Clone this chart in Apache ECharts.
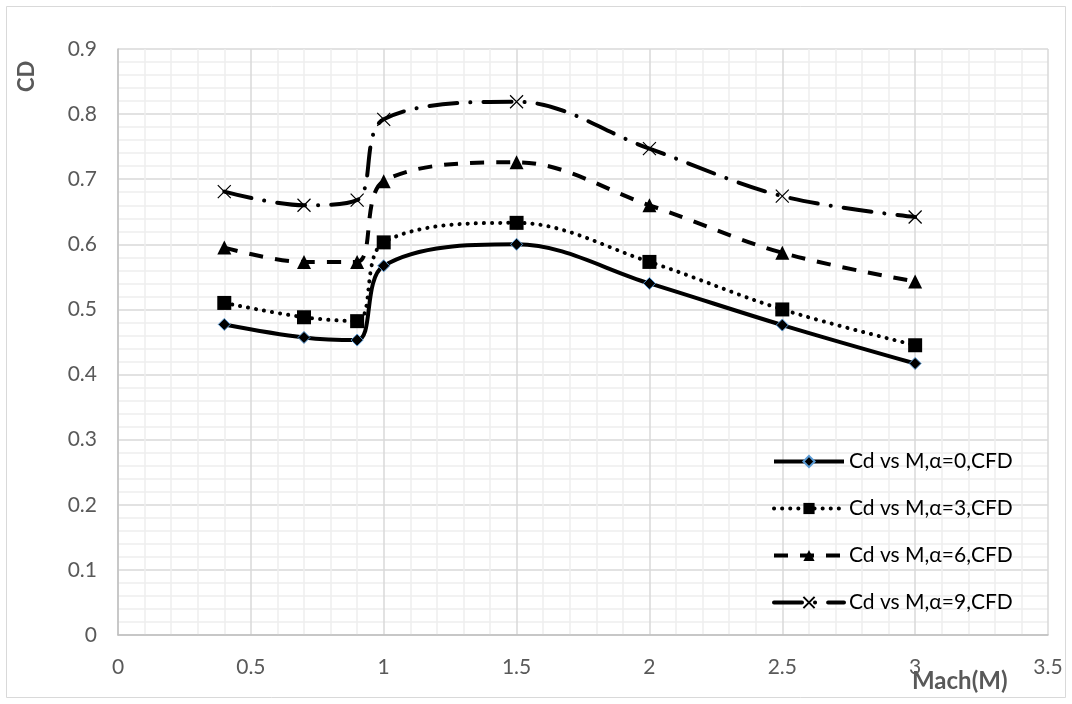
<!DOCTYPE html>
<html>
<head>
<meta charset="utf-8">
<script src="https://cdn.jsdelivr.net/npm/echarts@6/dist/echarts.min.js"></script>
<style>
  html, body { margin: 0; padding: 0; background: #ffffff; }
  #chart { width: 1072px; height: 704px; }
</style>
</head>
<body>
<div id="chart"></div>
<script>
const machValues = [0.4, 0.7, 0.9, 1, 1.5, 2, 2.5, 3];
const cdAlpha0 = [0.477, 0.457, 0.453, 0.567, 0.6, 0.54, 0.476, 0.417];
const cdAlpha3 = [0.51, 0.488, 0.482, 0.603, 0.633, 0.573, 0.5, 0.445];
const cdAlpha6 = [0.595, 0.573, 0.573, 0.697, 0.726, 0.66, 0.587, 0.543];
const cdAlpha9 = [0.681, 0.66, 0.668, 0.792, 0.819, 0.747, 0.674, 0.642];
const seriesNames = [
  "Cd vs M,α=0,CFD",
  "Cd vs M,α=3,CFD",
  "Cd vs M,α=6,CFD",
  "Cd vs M,α=9,CFD",
];

const font = "Lato, 'Open Sans', sans-serif";
const pairs = (ys) => machValues.map((x, i) => [x, ys[i]]);

const chart = echarts.init(document.getElementById("chart"), null, { renderer: "canvas" });

chart.setOption({
  animation: false,
  backgroundColor: "#ffffff",
  textStyle: { fontFamily: font },
  grid: { left: 118, right: 24, top: 49, bottom: 69 },
  graphic: [
    {
      type: "rect",
      shape: { x: 6.5, y: 6.5, width: 1059, height: 691 },
      style: { fill: "none", stroke: "#d9d9d9", lineWidth: 1 },
      silent: true,
    },
    {
      type: "text",
      left: 912,
      top: 669,
      style: { text: "Mach(M)", font: "bold 24px " + font, fill: "#595959" },
    },
    {
      type: "text",
      x: 16,
      y: 92,
      rotation: Math.PI / 2,
      style: { text: "CD", font: "bold 22px " + font, fill: "#595959" },
    },
  ],
  legend: {
    orient: "vertical",
    left: 767,
    top: 446,
    itemWidth: 70,
    itemHeight: 14,
    itemGap: 26,
    lineStyle: { width: 4 },
    textStyle: { color: "#000000", fontSize: 21, fontFamily: font },
    data: seriesNames,
  },
  xAxis: {
    type: "value",
    min: 0,
    max: 3.5,
    interval: 0.5,
    axisLine: { show: true, lineStyle: { color: "#bfbfbf", width: 1.5 } },
    axisTick: { show: false },
    axisLabel: { color: "#595959", fontSize: 21, margin: 22 },
    splitLine: { show: true, lineStyle: { color: "#d9d9d9", width: 1.5 } },
    minorTick: { show: false, splitNumber: 5 },
    minorSplitLine: { show: true, lineStyle: { color: "#eeeeee", width: 1.5 } },
  },
  yAxis: {
    type: "value",
    min: 0,
    max: 0.9,
    interval: 0.1,
    axisLine: { show: true, lineStyle: { color: "#bfbfbf", width: 1.5 } },
    axisTick: { show: false },
    axisLabel: { color: "#595959", fontSize: 21, margin: 21 },
    splitLine: { show: true, lineStyle: { color: "#d9d9d9", width: 1.5 } },
    minorTick: { show: false, splitNumber: 5 },
    minorSplitLine: { show: true, lineStyle: { color: "#eeeeee", width: 1.5 } },
  },
  series: [
    {
      name: seriesNames[0],
      type: "line",
      smooth: 0.35,
      data: pairs(cdAlpha0),
      symbol: "diamond",
      symbolSize: 12,
      itemStyle: { color: "#000000", borderColor: "#5b9bd5", borderWidth: 1 },
      lineStyle: { color: "#000000", width: 4 },
    },
    {
      name: seriesNames[1],
      type: "line",
      smooth: 0.35,
      data: pairs(cdAlpha3),
      symbol: "rect",
      symbolSize: 14,
      itemStyle: { color: "#000000" },
      lineStyle: { color: "#000000", width: 4, type: [0.1, 8], cap: "round" },
    },
    {
      name: seriesNames[2],
      type: "line",
      smooth: 0.35,
      data: pairs(cdAlpha6),
      symbol: "triangle",
      symbolSize: 14,
      itemStyle: { color: "#000000" },
      lineStyle: { color: "#000000", width: 4, type: [14, 12] },
    },
    {
      name: seriesNames[3],
      type: "line",
      smooth: 0.35,
      data: pairs(cdAlpha9),
      symbol: "path://M0,0L10,10M10,0L0,10",
      symbolSize: 13,
      itemStyle: { color: "#000000", borderColor: "#000000", borderWidth: 1.2 },
      lineStyle: { color: "#000000", width: 4, type: [28, 13, 0.1, 13], cap: "round" },
    },
  ],
});
</script>
</body>
</html>
